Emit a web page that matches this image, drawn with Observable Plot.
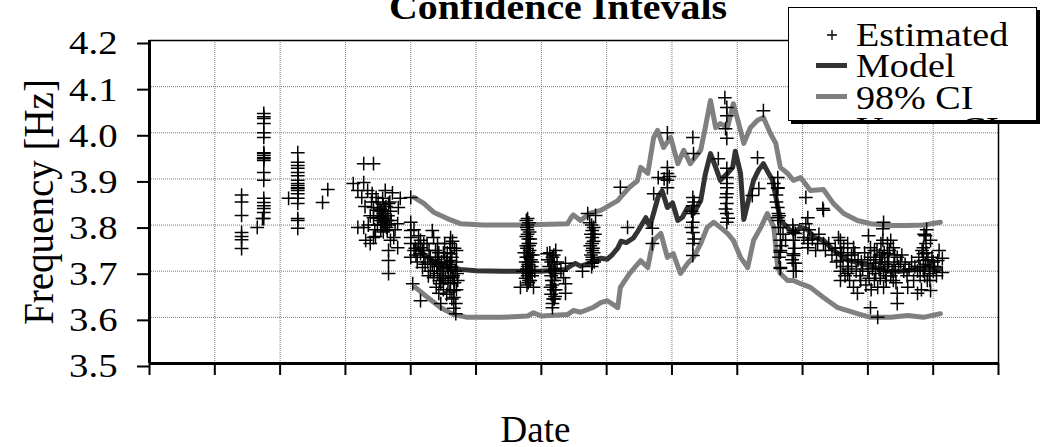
<!DOCTYPE html>
<html>
<head>
<meta charset="utf-8">
<script src="https://cdn.jsdelivr.net/npm/d3@7"></script>
<script src="https://cdn.jsdelivr.net/npm/@observablehq/plot@0.6"></script>
<style>
  html, body { margin: 0; padding: 0; background: #fff; }
  body { width: 1040px; height: 447px; overflow: hidden; position: relative; font-family: "Liberation Serif", "Times New Roman", serif; }
  #chart { position: absolute; left: 0; top: 0; }
  #title { position: absolute; left: 0; top: -10px; width: 1116px; text-align: center; font-size: 35px; line-height: 35px; font-weight: bold; transform: scaleX(1.14); transform-origin: 558px 0; white-space: nowrap; }
  #legend { position: absolute; left: 788px; top: 7px; width: 247px; height: 112px; border: 1.5px solid #000; box-shadow: 3px 3px 0 #000; background: #fff; overflow: hidden; }
  .lg-text { position: absolute; left: 67px; font-size: 34px; line-height: 34px; white-space: nowrap; transform: scaleX(1.12); transform-origin: 0 0; }
  .lg-line { position: absolute; left: 27px; width: 31px; height: 5px; }
</style>
</head>
<body>
<div id="chart"></div>
<div id="title">Confidence Intevals</div>
<div id="legend"></div>
<script>
// ---- tick values ----
const xTicks = d3.range(0, 14);            // date axis, one tick per period (unlabelled)
const yTicks = [3.5, 3.6, 3.7, 3.8, 3.9, 4.0, 4.1, 4.2];

// ---- legend series ----
const seriesNames = ["Estimated", "Model", "98% CI", "Upper CI"];

// ---- Model [t, frequency] ----
const model = [
[4.07,3.755],[4.15,3.742],[4.26,3.73],[4.35,3.722],[4.5,3.712],[4.64,3.707],[4.76,3.704],[5.0,3.701],[5.4,3.70],[5.8,3.70],[6.0,3.70],[6.2,3.702],[6.37,3.704],[6.45,3.712],[6.52,3.717],[6.6,3.711],[6.71,3.716],[6.8,3.72],[6.91,3.728],[7.01,3.726],[7.08,3.735],[7.17,3.75],[7.22,3.765],[7.3,3.762],[7.41,3.772],[7.47,3.785],[7.52,3.797],[7.6,3.816],[7.66,3.797],[7.72,3.826],[7.79,3.862],[7.85,3.874],[7.93,3.838],[8.01,3.848],[8.09,3.81],[8.16,3.817],[8.24,3.838],[8.33,3.825],[8.44,3.853],[8.51,3.91],[8.59,3.955],[8.67,3.925],[8.74,3.897],[8.85,3.912],[8.93,3.925],[8.97,3.96],[9.05,3.912],[9.1,3.812],[9.17,3.853],[9.25,3.897],[9.33,3.92],[9.4,3.933],[9.48,3.912],[9.54,3.897],[9.59,3.862],[9.66,3.81],[9.77,3.795],[9.86,3.782],[9.97,3.795],[10.08,3.79],[10.17,3.774],[10.32,3.767],[10.47,3.746],[10.69,3.724],[10.89,3.717],[11.09,3.709],[11.3,3.70],[11.5,3.70],[11.7,3.703],[11.91,3.708],[12.11,3.705]
];

// ---- Upper confidence bound ----
const upperCI = [
[4.05,3.86],[4.2,3.847],[4.35,3.828],[4.56,3.814],[4.76,3.803],[5.11,3.80],[5.64,3.80],[5.99,3.801],[6.4,3.803],[6.45,3.815],[6.49,3.822],[6.6,3.81],[6.75,3.826],[6.91,3.832],[7.01,3.84],[7.17,3.853],[7.21,3.86],[7.35,3.882],[7.47,3.896],[7.52,3.925],[7.63,3.912],[7.72,3.99],[7.78,4.005],[7.87,3.968],[7.98,3.99],[8.09,3.933],[8.18,3.962],[8.28,3.933],[8.44,3.962],[8.51,4.011],[8.59,4.07],[8.67,4.011],[8.74,4.02],[8.85,4.011],[8.94,4.063],[9.05,4.005],[9.1,3.977],[9.2,4.011],[9.31,4.027],[9.4,4.033],[9.51,3.998],[9.59,3.977],[9.66,3.925],[9.77,3.912],[9.86,3.897],[9.97,3.903],[10.12,3.875],[10.32,3.877],[10.47,3.847],[10.63,3.825],[10.84,3.81],[11.04,3.803],[11.35,3.799],[11.61,3.799],[11.85,3.80],[12.11,3.806]
];

// ---- Lower (98% CI) bound ----
const lowerCI = [
[4.07,3.665],[4.26,3.643],[4.46,3.621],[4.66,3.606],[4.87,3.60],[5.38,3.60],[5.79,3.603],[5.88,3.61],[6.0,3.603],[6.4,3.606],[6.49,3.615],[6.6,3.611],[6.8,3.622],[6.91,3.632],[7.01,3.636],[7.12,3.626],[7.17,3.621],[7.21,3.665],[7.35,3.695],[7.52,3.723],[7.63,3.708],[7.67,3.738],[7.72,3.767],[7.83,3.782],[7.93,3.73],[8.02,3.738],[8.13,3.695],[8.24,3.717],[8.33,3.73],[8.44,3.76],[8.54,3.795],[8.64,3.806],[8.74,3.795],[8.85,3.782],[8.94,3.767],[9.05,3.73],[9.16,3.708],[9.25,3.767],[9.36,3.795],[9.46,3.825],[9.56,3.795],[9.62,3.708],[9.66,3.695],[9.77,3.68],[9.86,3.68],[9.97,3.673],[10.12,3.665],[10.32,3.643],[10.54,3.621],[10.84,3.608],[11.04,3.60],[11.35,3.60],[11.61,3.604],[11.85,3.60],[12.11,3.608]
];

// ---- Estimated frequencies [t, frequency] ----
const estimated = [
[1.41,3.865],[1.41,3.85],[1.41,3.821],[1.41,3.784],[1.41,3.775],[1.41,3.768],[1.41,3.749],
[1.65,3.795],[1.73,3.814],
[1.75,4.042],[1.75,4.035],[1.75,4.031],[1.75,4.02],[1.75,4.0],[1.75,3.99],[1.75,3.957],[1.75,3.955],[1.75,3.951],[1.75,3.946],[1.75,3.944],[1.75,3.94],[1.75,3.914],[1.75,3.897],[1.75,3.858],[1.75,3.849],[1.75,3.842],[1.75,3.836],[1.75,3.827],[1.75,3.814],
[2.27,3.957],[2.27,3.936],[2.27,3.929],[2.27,3.923],[2.27,3.914],[2.27,3.907],[2.27,3.897],[2.27,3.89],[2.27,3.886],[2.27,3.881],[2.27,3.879],[2.27,3.875],[2.27,3.868],[2.27,3.858],[2.27,3.847],[2.27,3.814],[2.27,3.81],[2.27,3.793],[2.13,3.858],
[2.65,3.849],[2.73,3.877],
[3.12,3.89],[3.19,3.875],[3.28,3.933],[3.43,3.933],[3.28,3.892],[3.34,3.875],[3.41,3.868],[3.43,3.838],[3.19,3.795],[3.28,3.795],[3.31,3.767],[3.43,3.773],[3.43,3.816],[3.49,3.832],[3.57,3.858],[3.58,3.825],[3.61,3.875],[3.64,3.81],[3.66,3.847],[3.64,3.788],[3.69,3.767],[3.66,3.745],[3.66,3.723],[3.66,3.695],[3.74,3.773],[3.80,3.751],[3.84,3.858],[3.81,3.838],[3.80,3.803],[3.54,3.81],[3.49,3.80],[3.54,3.79],[3.61,3.80],[3.57,3.82],[3.69,3.83],[3.72,3.87],[3.55,3.83],[3.6,3.815],[3.62,3.84],[3.56,3.80],[3.63,3.795],[3.58,3.845],[3.5,3.85],[3.52,3.82],[3.47,3.86],[3.4,3.85],[3.38,3.82],
[3.3,3.84],[3.35,3.80],[3.45,3.79],[3.5,3.815],[3.53,3.835],[3.56,3.815],[3.59,3.805],[3.6,3.83],[3.62,3.81],[3.65,3.82],[3.67,3.80],[3.7,3.81],[3.46,3.775],[3.38,3.76],[3.25,3.86],[3.58,3.785],[3.68,3.85],[3.76,3.79],
[4.0,3.86],[4.0,3.806],[4.0,3.788],[4.0,3.773],[4.0,3.76],[4.0,3.73],[4.03,3.673],[4.12,3.777],[4.15,3.767],[4.15,3.751],[4.15,3.738],[4.18,3.708],[4.15,3.636],[4.33,3.788],[4.35,3.773],[4.41,3.76],[4.38,3.745],[4.41,3.73],[4.43,3.717],[4.41,3.695],[4.46,3.673],[4.43,3.652],[4.46,3.63],[4.61,3.773],[4.61,3.751],[4.61,3.738],[4.61,3.723],[4.61,3.70],[4.64,3.686],[4.61,3.673],[4.66,3.658],[4.66,3.643],[4.69,3.63],[4.69,3.608],[4.56,3.708],[4.5,3.68],[4.35,3.686],[4.72,3.68],[4.2,3.73],[4.26,3.72],[4.3,3.70],[4.5,3.74],[4.55,3.72],[4.64,3.765],[4.7,3.745],[4.7,3.72],[4.68,3.70],[4.5,3.66],[4.55,3.65],[4.25,3.76],[4.07,3.75],[4.1,3.72],[4.28,3.745],[4.45,3.70],[4.58,3.69],
[4.05,3.79],[4.05,3.745],[4.08,3.735],[4.12,3.76],[4.18,3.745],[4.2,3.76],[4.22,3.715],[4.3,3.73],[4.33,3.715],[4.36,3.70],[4.38,3.725],[4.4,3.71],[4.43,3.74],[4.44,3.68],[4.47,3.72],[4.48,3.69],[4.5,3.705],[4.52,3.73],[4.53,3.685],[4.56,3.74],[4.57,3.675],[4.59,3.715],[4.6,3.655],[4.62,3.71],[4.63,3.73],[4.63,3.64],[4.65,3.69],[4.67,3.75],[4.67,3.675],[4.7,3.66],[4.71,3.695],[4.66,3.62],[4.6,3.76],[4.52,3.76],[4.39,3.665],[4.27,3.69],
[5.79,3.814],[5.79,3.80],[5.79,3.79],[5.79,3.78],[5.8,3.77],[5.8,3.76],[5.78,3.75],[5.82,3.745],[5.8,3.74],[5.79,3.73],[5.84,3.725],[5.76,3.72],[5.8,3.715],[5.85,3.71],[5.78,3.705],[5.82,3.70],[5.8,3.695],[5.86,3.69],[5.76,3.685],[5.83,3.68],[5.8,3.675],[5.68,3.665],[5.88,3.665],[5.86,3.72],[5.74,3.74],[5.83,3.76],[5.77,3.70],[5.9,3.70],
[5.77,3.81],[5.81,3.805],[5.78,3.795],[5.82,3.785],[5.77,3.775],[5.83,3.77],[5.77,3.755],[5.81,3.755],[5.83,3.735],[5.77,3.73],[5.81,3.72],[5.79,3.71],[5.84,3.70],[5.79,3.69],[5.81,3.68],[5.78,3.67],[5.72,3.70],[5.87,3.735],
[6.22,3.745],[6.09,3.738],[6.17,3.73],[6.15,3.72],[6.2,3.715],[6.12,3.71],[6.18,3.70],[6.22,3.695],[6.15,3.69],[6.2,3.68],[6.17,3.67],[6.22,3.66],[6.15,3.65],[6.2,3.64],[6.17,3.63],[6.17,3.621],[6.34,3.686],[6.37,3.652],[6.37,3.673],[6.37,3.717],[6.3,3.70],
[6.13,3.74],[6.19,3.735],[6.14,3.70],[6.21,3.705],[6.16,3.68],[6.19,3.66],[6.14,3.665],[6.21,3.645],[6.18,3.64],[6.24,3.72],[6.1,3.725],
[6.71,3.825],[6.83,3.821],[6.78,3.788],[6.78,3.773],[6.78,3.76],[6.78,3.745],[6.78,3.73],[6.78,3.717],[6.63,3.70],[6.8,3.765],[6.75,3.755],[6.8,3.74],[6.78,3.725],[6.82,3.78],
[6.77,3.80],[6.8,3.795],[6.76,3.78],[6.79,3.75],[6.76,3.735],[6.81,3.72],[6.77,3.71],[6.74,3.805],
[7.21,3.882],[7.32,3.795],[7.72,3.868],[7.70,3.793],[7.70,3.76],[7.79,3.903],[7.93,3.925],[7.93,3.912],[7.93,3.897],[7.93,3.881],[7.93,4.0],[7.88,3.9],[7.96,3.905],
[8.32,3.99],[8.33,3.955],[8.32,3.86],[8.32,3.842],[8.32,3.825],[8.32,3.806],[8.32,3.784],[8.32,3.76],[8.32,3.734],[8.34,3.85],[8.3,3.83],[8.3,3.795],[8.34,3.77],
[8.71,3.944],[8.81,4.076],[8.84,4.055],[8.84,4.037],[8.82,4.009],[8.84,3.988],[8.84,3.923],[8.84,3.903],[8.84,3.881],[8.84,3.868],[8.84,3.847],[8.84,3.825],[8.84,3.806],[8.84,3.89],[8.82,3.835],[8.86,3.815],[8.83,3.86],
[9.31,3.946],[9.40,4.048],[9.23,3.864],[9.33,3.879],[9.56,3.89],[9.62,3.903],[9.62,3.881],[9.62,3.838],[9.63,3.825],[9.63,3.81],[9.66,3.795],[9.66,3.767],[9.66,3.741],[9.66,3.706],[9.74,3.767],[9.85,3.80],[9.86,3.784],[9.86,3.734],[9.86,3.717],[9.86,3.70],[9.6,3.85],[9.64,3.82],[9.7,3.78],
[9.6,3.865],[9.63,3.795],[9.68,3.755],[9.64,3.73],[9.88,3.75],[9.84,3.725],[9.9,3.70],
[10.05,3.86],[10.31,3.836],[10.05,3.803],[9.89,3.782],[9.86,3.738],[10.02,3.773],[10.08,3.76],[10.23,3.76],[10.32,3.76],[10.55,3.773],[10.58,3.751],[10.58,3.723],[10.58,3.70],[10.58,3.68],[10.69,3.76],[10.78,3.751],[10.69,3.723],[10.69,3.695],[10.78,3.665],[10.84,3.652],[10.89,3.68],
[11.01,3.777],[11.04,3.751],[11.04,3.73],[11.09,3.717],[11.12,3.695],[11.15,3.665],[11.04,3.621],[11.15,3.60],[11.24,3.806],[11.23,3.792],[11.23,3.767],[11.30,3.738],[11.24,3.70],[11.24,3.665],[11.35,3.767],[11.39,3.751],[11.45,3.73],[11.42,3.70],[11.39,3.68],[11.45,3.652],[11.45,3.63],[11.61,3.665],[11.76,3.652],
[11.88,3.777],[11.96,3.767],[11.85,3.751],[11.85,3.738],[11.85,3.723],[11.85,3.70],[11.91,3.68],[11.96,3.658],[12.07,3.723],[12.14,3.728],[12.14,3.697],[11.76,3.70],[11.70,3.68],
[9.62,3.88],[9.62,3.816],[9.66,3.745],[9.66,3.708],[9.86,3.788],[9.86,3.767],[9.89,3.717],[10.08,3.816],[10.08,3.767],[10.08,3.751],[10.32,3.832],[10.58,3.767],[10.63,3.751],[10.69,3.734],
[11.1,3.745],[11.2,3.72],[11.3,3.71],[11.35,3.69],[11.28,3.68],[11.18,3.735],[11.4,3.715],[11.5,3.72],[11.55,3.70],[11.6,3.69],[11.9,3.74],[11.95,3.71],[12.0,3.72],[11.8,3.69],[11.88,3.715],[10.95,3.74],[10.9,3.72],[11.0,3.70],[10.75,3.71],[10.8,3.74],[11.2,3.76],[11.3,3.76],[11.25,3.74],[11.1,3.68],[11.05,3.66],[12.0,3.70],[11.95,3.68],[11.82,3.66],
[10.1,3.79],[10.15,3.77],[10.2,3.745],[10.25,3.78],[10.35,3.745],[10.4,3.76],[10.45,3.735],[10.5,3.75],[10.52,3.72],[10.6,3.74],[10.62,3.71],[10.65,3.69],[10.7,3.705],[10.72,3.68],[10.75,3.735],[10.82,3.70],[10.85,3.725],[10.88,3.69],[10.92,3.705],[10.97,3.67],[11.0,3.725],[11.02,3.685],[11.07,3.705],[11.12,3.725],[11.14,3.745],[11.17,3.705],[11.19,3.685],[11.22,3.73],[11.26,3.715],[11.27,3.69],[11.32,3.72],[11.33,3.745],[11.37,3.70],[11.41,3.735],[11.43,3.675],[11.47,3.71],[11.52,3.735],[11.57,3.715],[11.63,3.705],[11.67,3.72],[11.72,3.71],[11.78,3.73],[11.8,3.71],[11.83,3.745],[11.87,3.69],[11.89,3.76],[11.92,3.725],[11.94,3.695],[11.98,3.73],[12.02,3.71],[12.05,3.69],[12.09,3.745],[11.9,3.79],[11.86,3.78]
];

const gridStyle = {stroke: "#7a7a7a", strokeOpacity: 1, strokeWidth: 1, strokeDasharray: "1,1"};

const chart = Plot.plot({
  width: 1040,
  height: 447,
  marginLeft: 149,
  marginRight: 42,
  marginTop: 40,
  marginBottom: 84,
  style: {fontFamily: "'Liberation Serif', 'Times New Roman', serif", fontSize: "34px", color: "#000", background: "#fff", overflow: "visible"},
  x: {domain: [0, 13]},
  y: {domain: [3.5, 4.2]},
  marks: [
    Plot.gridX(xTicks.slice(1, -1), gridStyle),
    Plot.gridY(yTicks.slice(1, -1), gridStyle),
    Plot.ruleY([4.2], {stroke: "#000", strokeWidth: 1.5}),
    Plot.ruleX([13], {stroke: "#000", strokeWidth: 1.5}),
    Plot.line(lowerCI, {x: d => d[0], y: d => d[1], stroke: "#808080", strokeWidth: 5, strokeLinejoin: "round"}),
    Plot.line(upperCI, {x: d => d[0], y: d => d[1], stroke: "#808080", strokeWidth: 5, strokeLinejoin: "round"}),
    Plot.line(model, {x: d => d[0], y: d => d[1], stroke: "#333333", strokeWidth: 5, strokeLinejoin: "round"}),
    Plot.dot(estimated, {x: d => d[0], y: d => d[1], symbol: "plus", r: 4.5, stroke: "#000", strokeWidth: 1.5}),
    Plot.axisX(xTicks, {tickSize: 12, tickFormat: () => "", stroke: "#000", strokeWidth: 2, label: null}),
    Plot.axisY(yTicks, {tickSize: 12, tickPadding: 20, tickFormat: d3.format(".1f"), stroke: "#000", strokeWidth: 2, label: null, fontSize: 34, dy: 3}),
    Plot.ruleX([0], {stroke: "#000", strokeWidth: 3}),
    Plot.ruleY([3.5], {stroke: "#000", strokeWidth: 3}),
    Plot.text(["Frequency [Hz]"], {text: d => d, frameAnchor: "left", textAnchor: "middle", lineAnchor: "middle", dx: -110, rotate: -90, fontSize: 39}),
    Plot.text(["Date"], {text: d => d, frameAnchor: "bottom", textAnchor: "middle", lineAnchor: "middle", dx: -38.5, dy: 67, fontSize: 37})
  ]
});
document.getElementById("chart").appendChild(chart);

// horizontally widen the tick labels / axis title like the original rendering
chart.querySelectorAll("text").forEach(t => {
  const s = t.textContent;
  const tr = t.getAttribute("transform") || "";
  if (/^\d\.\d$/.test(s)) t.setAttribute("transform", tr + " scale(1.14,1)");
  else if (s === "Frequency [Hz]") t.setAttribute("transform", tr + " scale(1,1.1)");
});

// legend
const legend = document.getElementById("legend");
const legendColors = [null, "#333333", "#808080", "#808080"];
seriesNames.forEach((name, i) => {
  const top = 10 + i * 31.3;
  const txt = document.createElement("div");
  txt.className = "lg-text";
  txt.style.top = top + "px";
  txt.textContent = name;
  legend.appendChild(txt);
  if (i === 0) {
    const ns = "http://www.w3.org/2000/svg";
    const s = document.createElementNS(ns, "svg");
    s.setAttribute("width", 14); s.setAttribute("height", 14);
    s.style.position = "absolute"; s.style.left = "35.5px"; s.style.top = (top + 10) + "px";
    s.innerHTML = '<path d="M2,7H12M7,2V12" stroke="#000" stroke-width="1.3" fill="none"/>';
    legend.appendChild(s);
  } else {
    const ln = document.createElement("div");
    ln.className = "lg-line";
    ln.style.background = legendColors[i];
    ln.style.top = (top + 13.5) + "px";
    legend.appendChild(ln);
  }
});
</script>
</body>
</html>
